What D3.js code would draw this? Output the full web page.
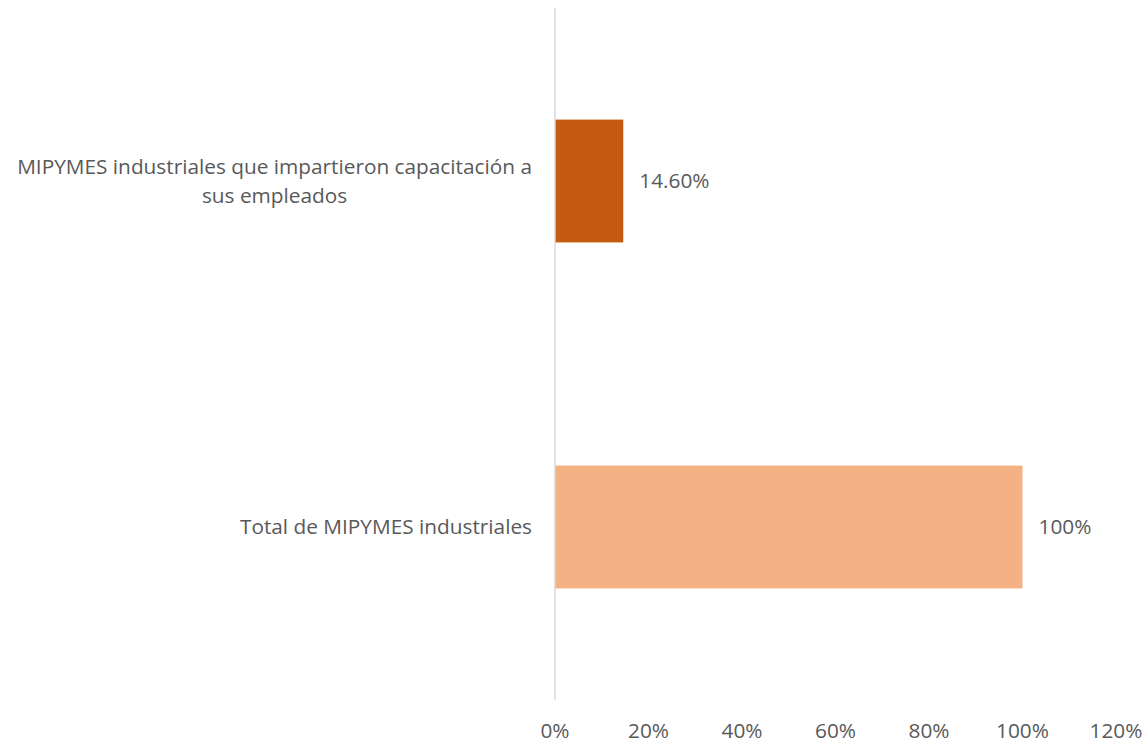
<!DOCTYPE html>
<html>
<head>
<meta charset="utf-8">
<script src="https://cdn.jsdelivr.net/npm/d3@7"></script>
<style>
  html, body { margin: 0; padding: 0; background: #fff; }
  svg text { font-family: "Open Sans", "Noto Sans", sans-serif; fill: #595959; }
</style>
</head>
<body>
<svg id="chart" width="1148" height="744"></svg>
<script>
// Categories, top to bottom, with their percentages
const categories = [
  ["MIPYMES industriales que impartieron capacitación a", "sus empleados"],
  ["Total de MIPYMES industriales"]
];
const values = [14.6, 100];
const valueLabels = ["14.60%", "100%"];
const barColors = ["#C55A11", "#F4B183"];
const tickValues = [0, 20, 40, 60, 80, 100, 120];

const svg = d3.select("#chart");
const plot = { left: 555, right: 1116, top: 8, bottom: 700 };
const fontSize = 20.8;

const x = d3.scaleLinear().domain([0, 120]).range([plot.left, plot.right]);
const y = d3.scaleBand()
  .domain(d3.range(categories.length))
  .range([plot.top, plot.bottom])
  .paddingInner(0.645)
  .paddingOuter(0.3225);

// Bars
svg.selectAll("rect.bar")
  .data(values)
  .join("rect")
  .attr("class", "bar")
  .attr("x", x(0))
  .attr("y", (d, i) => y(i))
  .attr("width", d => x(d) - x(0))
  .attr("height", y.bandwidth())
  .attr("fill", (d, i) => barColors[i]);

// Vertical category axis line
svg.append("line")
  .attr("x1", x(0)).attr("x2", x(0))
  .attr("y1", plot.top).attr("y2", plot.bottom)
  .attr("stroke", "#d9d9d9").attr("stroke-width", 1.5);

// Value labels
svg.selectAll("text.val")
  .data(values)
  .join("text")
  .attr("class", "val")
  .attr("x", d => x(d) + 16)
  .attr("y", (d, i) => y(i) + y.bandwidth() / 2)
  .attr("dy", "0.35em")
  .attr("font-size", fontSize)
  .text((d, i) => valueLabels[i]);

// Category labels: wrapped lines are centred on each other, block right-aligned
const lineH = 29;
const labelRight = 532;
categories.forEach((lines, i) => {
  const g = svg.append("g");
  const cy = y(i) + y.bandwidth() / 2;
  const t = g.append("text")
    .attr("font-size", fontSize)
    .attr("text-anchor", "middle");
  lines.forEach((s, k) => {
    t.append("tspan")
      .attr("x", 0)
      .attr("y", cy + (k - (lines.length - 1) / 2) * lineH)
      .attr("dy", "0.35em")
      .text(s);
  });
  const w = t.node().getBBox().width;
  g.attr("transform", `translate(${labelRight - w / 2},0)`);
});

// Bottom axis tick labels
svg.selectAll("text.tick")
  .data(tickValues)
  .join("text")
  .attr("class", "tick")
  .attr("x", d => x(d))
  .attr("y", 731)
  .attr("dy", "0.35em")
  .attr("text-anchor", "middle")
  .attr("font-size", fontSize)
  .text(d => d + "%");
</script>
</body>
</html>
